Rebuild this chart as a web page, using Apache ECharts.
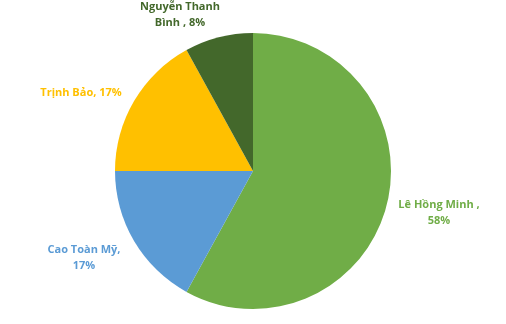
<!DOCTYPE html>
<html><head><meta charset="utf-8">
<script src="https://cdn.jsdelivr.net/npm/echarts@6/dist/echarts.min.js"></script>
<style>html,body{margin:0;padding:0;background:#fff}#c{width:506px;height:324px}</style>
</head><body><div id="c"></div>
<script>
const names = ['Lê Hồng Minh', 'Cao Toàn Mỹ', 'Trịnh Bảo', 'Nguyễn Thanh Bình'];
const values = [58, 17, 17, 8];
const colors = ['#70AD47', '#5B9BD5', '#FFC000', '#43682B'];
const labelTexts = [
  (n, p) => n + ' ,\n' + p + '%',
  (n, p) => n + ',\n' + p + '%',
  (n, p) => n + ', ' + p + '%',
  (n, p) => 'Nguyễn Thanh\nBình , ' + p + '%'
];
const labelPos = [[439, 213], [84, 258], [81, 93], [180, 15]];

const chart = echarts.init(document.getElementById('c'));
chart.setOption({
  animation: false,
  series: [{
    type: 'pie',
    center: [253, 171],
    radius: 138,
    startAngle: 90,
    clockwise: true,
    data: names.map((n, i) => ({ name: n, value: values[i], itemStyle: { color: colors[i] },
      label: { color: colors[i] } })),
    label: {
      show: true,
      position: 'outside',
      alignTo: 'none',
      overflow: 'none',
      formatter: p => labelTexts[p.dataIndex](p.name, Math.round(p.percent)),
      fontFamily: 'Open Sans',
      fontWeight: 'bold',
      fontSize: 11,
      lineHeight: 16,
      align: 'center'
    },
    labelLine: { show: false },
    labelLayout: params => ({ x: labelPos[params.dataIndex][0], y: labelPos[params.dataIndex][1], align: 'center', verticalAlign: 'middle', width: 200 })
  }]
});
</script></body></html>
